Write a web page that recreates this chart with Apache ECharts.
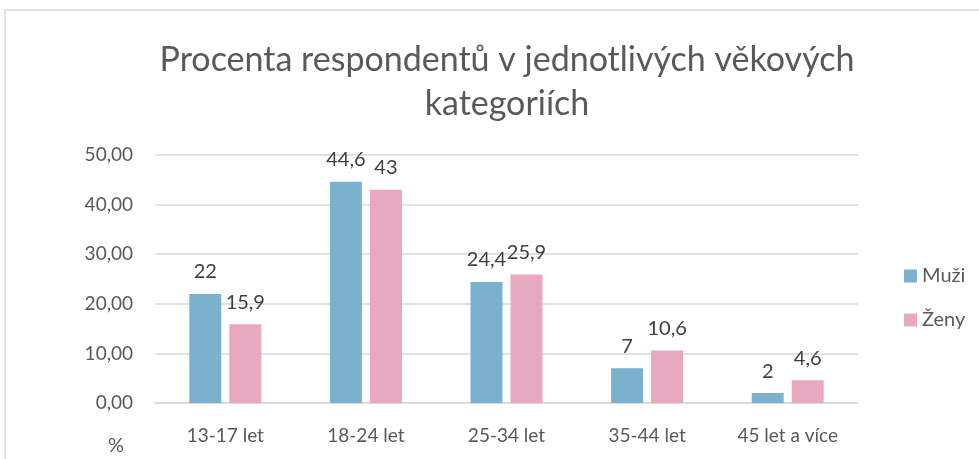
<!DOCTYPE html>
<html>
<head>
<meta charset="utf-8">
<script src="https://cdn.jsdelivr.net/npm/echarts@6/dist/echarts.min.js"></script>
<style>
  html, body { margin: 0; padding: 0; background: #fff; }
  #chart { width: 979px; height: 459px; }
</style>
</head>
<body>
<div id="chart"></div>
<script>
// data
const categories = ['13-17 let', '18-24 let', '25-34 let', '35-44 let', '45 let a více']
const muzi = [22, 44.6, 24.4, 7, 2]
const zeny = [15.9, 43, 25.9, 10.6, 4.6]
const seriesNames = ['Muži', 'Ženy']

const font = 'Lato, "Open Sans", sans-serif'
const chart = echarts.init(document.getElementById('chart'))

const labelFmt = p => String(p.value).replace('.', ',')

chart.setOption({
  animation: false,
  textStyle: { fontFamily: font },
  title: {
    text: 'Procenta respondentů v jednotlivých věkových\nkategoriích',
    left: 502,
    top: 33,
    textAlign: 'center',
    textStyle: { fontFamily: font, fontSize: 34, fontWeight: 'normal', color: '#595959', lineHeight: 44 }
  },
  legend: {
    orient: 'vertical',
    left: 899,
    top: 261,
    itemWidth: 13,
    itemHeight: 13,
    itemGap: 24,
    icon: 'rect',
    textStyle: { fontFamily: font, fontSize: 20, color: '#595959' },
    data: seriesNames
  },
  grid: { left: 155, right: 121, top: 155, bottom: 56 },
  xAxis: {
    type: 'category',
    data: categories,
    axisTick: { show: false },
    axisLine: { lineStyle: { color: '#d9d9d9', width: 1.5 } },
    axisLabel: { fontFamily: font, fontSize: 19, color: '#595959', margin: 23 }
  },
  yAxis: {
    type: 'value',
    min: 0,
    max: 50,
    interval: 10,
    axisLabel: {
      fontFamily: font, fontSize: 19, color: '#595959', margin: 22,
      formatter: v => v.toFixed(2).replace('.', ',')
    },
    splitLine: { lineStyle: { color: '#d9d9d9', width: 1.5 } }
  },
  graphic: [
    {
      type: 'rect',
      shape: { x: 5, y: 10, width: 990, height: 470 },
      style: { fill: 'none', stroke: '#d9d9d9', lineWidth: 1.5 }
    },
    {
      type: 'text',
      left: 108,
      top: 436,
      style: { text: '%', fontFamily: font, fontSize: 20, fill: '#595959' }
    }
  ],
  series: [
    {
      name: seriesNames[0],
      type: 'bar',
      data: muzi,
      barWidth: 32,
      barGap: '25%',
      itemStyle: { color: '#7ab2cd' },
      label: { show: true, position: 'top', distance: 12, fontFamily: font, fontSize: 20, color: '#404040', formatter: labelFmt }
    },
    {
      name: seriesNames[1],
      type: 'bar',
      data: zeny,
      barWidth: 32,
      itemStyle: { color: '#e8a9c0' },
      label: { show: true, position: 'top', distance: 12, fontFamily: font, fontSize: 20, color: '#404040', formatter: labelFmt }
    }
  ]
})
</script>
</body>
</html>
